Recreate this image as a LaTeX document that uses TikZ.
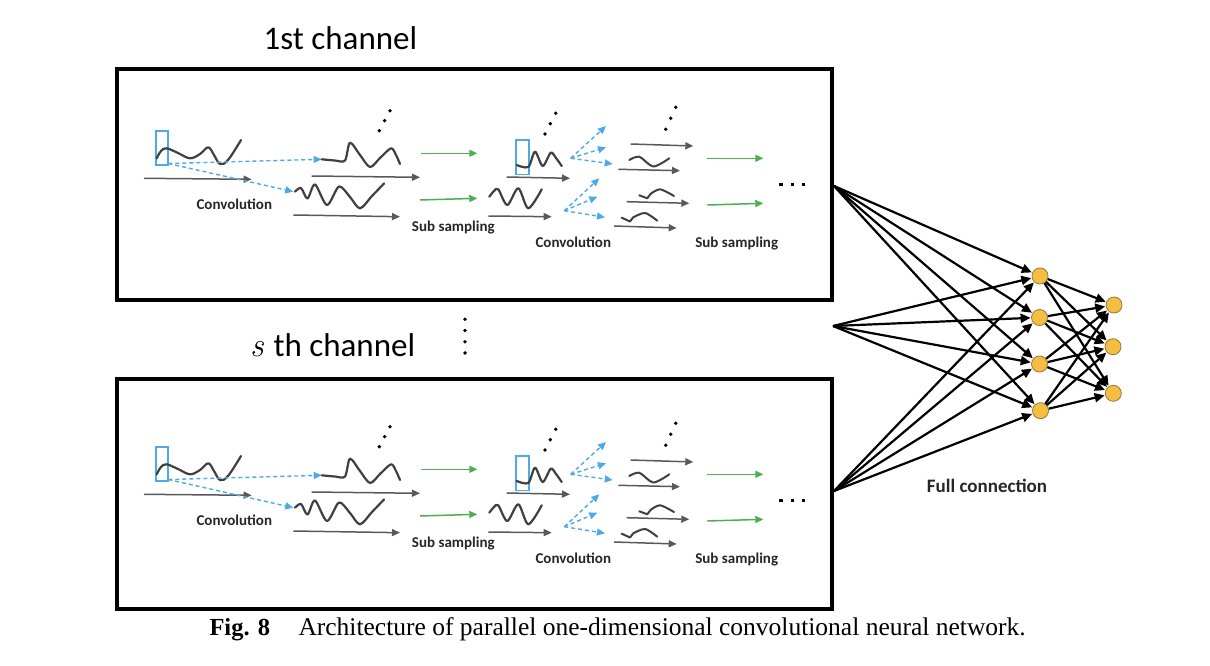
\documentclass[tikz,border=0pt]{standalone}
\usepackage{fontspec}
\newfontfamily\calibri{Carlito}
\newfontfamily\timesf{Liberation Serif}
\usetikzlibrary{arrows.meta}
\definecolor{wavegray}{RGB}{64,64,64}
\definecolor{arrgray}{RGB}{89,89,89}
\definecolor{arrgreen}{RGB}{76,175,80}
\definecolor{arrblue}{RGB}{78,170,230}
\definecolor{neurofill}{RGB}{243,190,66}
\definecolor{neurodraw}{RGB}{150,120,60}
\tikzset{
  grayarr/.style={draw=arrgray,line width=1.5pt,-{Triangle[length=8pt,width=7pt]}},
  greenarr/.style={draw=arrgreen,line width=1.5pt,-{Triangle[length=8pt,width=7pt]}},
  bluedash/.style={draw=arrblue,line width=1.4pt,dash pattern=on 4pt off 3pt,-{Triangle[length=8pt,width=7pt]}},
  bluebox/.style={draw=arrblue,line width=1.6pt},
  wave/.style={draw=wavegray,line width=2.2pt,line cap=round,line join=round},
  lbl/.style={font=\calibri\bfseries\fontsize{15}{18}\selectfont,text=black!85,inner sep=0pt},
  dotc/.style={fill=black,draw=none},
  chanbox/.style={draw=black,line width=4pt},
  neuron/.style={circle,fill=neurofill,draw=neurodraw,line width=0.8pt,minimum size=16pt,inner sep=0pt},
  netarr/.style={draw=black,line width=2.2pt,-{Triangle[length=10pt,width=9pt]},shorten >=0.5pt},
}
\newcommand{\chancontent}{%
  % stage 1
  \draw[bluebox] (156,131) rectangle (168,165);
  \draw[wave] plot[smooth,tension=0.6] coordinates {(156.7,158.3) (161,151) (166.7,148.3) (178,153) (190,158.3) (200,154) (208.3,147.3) (214,155) (220,164) (228,160) (241,140)};
  \coordinate (in1a) at (144,178.3); \coordinate (in1b) at (251.7,179.3);
  \draw[grayarr] (in1a) -- (in1b);
  \coordinate (fo) at (168.3,163.5);
  \coordinate (t1) at (321.7,159.3); \coordinate (t2) at (293.3,191.7);
  \draw[bluedash] (fo) -- (t1);
  \draw[bluedash] (fo) -- (t2);
  \node[lbl] (conv1) at (234.3,204.3) {Convolution};
  % feature maps 1
  \draw[wave] plot[smooth,tension=0.5] coordinates {(321.7,159.3) (335,160.5) (345,160.5) (350,142.7) (360,155) (370,167) (380,158) (391,148.3) (396,155) (400,164)};
  \draw[wave] plot[smooth,tension=0.5] coordinates {(295,191.7) (301,188) (307.5,198.5) (315,184.5) (327,205) (339,186.5) (350,197) (360,208.3) (372,196) (384,183.5)};
  \foreach \p in {(379.3,130.7),(384.6,120.7),(390,110.7)} \fill[dotc] \p circle (1.9);
  \coordinate (a2a) at (311.7,176); \coordinate (a2b) at (420,177.3);
  \draw[grayarr] (a2a) -- (a2b);
  \coordinate (a3a) at (293.3,215); \coordinate (a3b) at (400,216.7);
  \draw[grayarr] (a3a) -- (a3b);
  \coordinate (g1a) at (420.7,153.3); \coordinate (g1b) at (477.3,153.3);
  \draw[greenarr] (g1a) -- (g1b);
  \coordinate (g2a) at (420,200); \coordinate (g2b) at (477.3,198.3);
  \draw[greenarr] (g2a) -- (g2b);
  \node[lbl] (sub1) at (453.3,227.3) {Sub sampling};
  % stage 2
  \draw[bluebox] (515.7,140) rectangle (528.7,174.3);
  \draw[wave] plot[smooth,tension=0.5] coordinates {(516.7,165) (528.3,167) (535,151.7) (542.7,166) (550.7,152.7) (556,158) (561.7,166)};
  \draw[wave] plot[smooth,tension=0.5] coordinates {(489.3,196.7) (494,191) (498.3,189.3) (507.3,205) (518.3,188.3) (528.3,208.3) (541.7,189.3)};
  \foreach \p in {(545,134),(550.3,123.7),(555.7,113.3)} \fill[dotc] \p circle (1.9);
  \coordinate (a4a) at (506.7,177); \coordinate (a4b) at (570,178.3);
  \draw[grayarr] (a4a) -- (a4b);
  \coordinate (a5a) at (488.3,216); \coordinate (a5b) at (551.7,216.7);
  \draw[grayarr] (a5a) -- (a5b);
  \coordinate (fu) at (570.7,158.3);
  \coordinate (fu1) at (606,126); \coordinate (fu2) at (606,147.3); \coordinate (fu3) at (612.7,164);
  \foreach \t in {fu1,fu2,fu3} \draw[bluedash] (fu) -- (\t);
  \coordinate (fl) at (564.3,210.7);
  \coordinate (fl1) at (599.3,178.3); \coordinate (fl2) at (597.3,196.7); \coordinate (fl3) at (605,217.3);
  \foreach \t in {fl1,fl2,fl3} \draw[bluedash] (fl) -- (\t);
  \node[lbl] (conv2) at (573.3,242.3) {Convolution};
  % feature maps 2
  \foreach \p in {(665.7,129.3),(670.7,118.3),(675.7,107.3)} \fill[dotc] \p circle (1.9);
  \coordinate (a6a) at (630.7,144); \coordinate (a6b) at (693.3,146);
  \draw[grayarr] (a6a) -- (a6b);
  \draw[wave,line width=2pt] plot[smooth,tension=0.5] coordinates {(629.3,160) (639.3,156.7) (653.3,166.5) (669.3,158.3)};
  \coordinate (a7a) at (618.3,169.3); \coordinate (a7b) at (680,170.7);
  \draw[grayarr] (a7a) -- (a7b);
  \draw[wave,line width=2pt] (639.3,195.3) -- (647.3,198.3) -- (650.5,194) plot[smooth,tension=0.5] coordinates {(650.5,194) (660,189.3) (674,196)};
  \coordinate (a8a) at (626.7,201.7); \coordinate (a8b) at (689.3,203.3);
  \draw[grayarr] (a8a) -- (a8b);
  \draw[wave,line width=2pt] (621.7,217.7) -- (630,221.5) -- (633,217.5) plot[smooth,tension=0.5] coordinates {(633,217.5) (645,213) (657.3,220.7)};
  \coordinate (a9a) at (614,226); \coordinate (a9b) at (676.7,228);
  \draw[grayarr] (a9a) -- (a9b);
  \coordinate (g3a) at (707.3,158.3); \coordinate (g3b) at (763.3,158.3);
  \draw[greenarr] (g3a) -- (g3b);
  \coordinate (g4a) at (707.3,205); \coordinate (g4b) at (763.3,203.3);
  \draw[greenarr] (g4a) -- (g4b);
  \node[lbl] (sub2) at (736.7,244) {Sub sampling};
  \foreach \x in {779.3,790.7,801.7} \fill[dotc] (\x,186.3) rectangle ++(3.4,-3.4);
}
\begin{document}
\begin{tikzpicture}[x=1pt,y=-1pt]
\useasboundingbox (0,0) rectangle (1210,666);
\fill[white] (0,0) rectangle (1210,666);
% titles
\node[anchor=base west,inner sep=0pt,font=\calibri\fontsize{33}{40}\selectfont] (t1) at (263.5,50) {1st channel};
\node[anchor=base west,inner sep=0pt,font=\fontsize{34}{40}\selectfont\itshape] (ts) at (250,356.7) {s};
\node[anchor=base west,inner sep=0pt,font=\calibri\fontsize{33}{40}\selectfont] (t2) at (273.3,356.7) {th channel};
\foreach \y in {319.3,330.5,341.7,352.9} \fill[dotc] (465,\y) circle (1.9);
% boxes
\draw[chanbox] (117,69.5) rectangle (832,299.5);
\draw[chanbox] (117,379) rectangle (832,609);
% contents
\begin{scope}[name prefix=a-]
\chancontent
\end{scope}
\begin{scope}[yshift=-316pt,name prefix=b-]
\chancontent
\end{scope}
% network
\coordinate (s1) at (834,186);
\coordinate (s2) at (833,326);
\coordinate (s3) at (834,491);
\node[neuron] (h1) at (1040,276) {};
\node[neuron] (h2) at (1039.5,317.5) {};
\node[neuron] (h3) at (1039.5,364) {};
\node[neuron] (h4) at (1040.5,410.7) {};
\node[neuron] (o1) at (1114,305) {};
\node[neuron] (o2) at (1113,346.7) {};
\node[neuron] (o3) at (1113.3,393.3) {};
\foreach \s in {s1,s2,s3}
  \foreach \h in {h1,h2,h3,h4}
    \draw[netarr] (\s) -- (\h);
\foreach \h in {h1,h2,h3,h4}
  \foreach \o in {o1,o2,o3}
    \draw[netarr] (\h) -- (\o);
\node[lbl,font=\calibri\bfseries\fontsize{19}{22}\selectfont] (fc) at (987,485.5) {Full connection};
% caption
\node[anchor=base west,inner sep=0pt,font=\timesf\bfseries\fontsize{24.5}{28}\selectfont] (cap1) at (209.3,635) {Fig. 8};
\node[anchor=base west,inner sep=0pt,font=\timesf\fontsize{25.5}{30}\selectfont] (cap2) at (298.3,635) {Architecture of parallel one-dimensional convolutional neural network.};
\end{tikzpicture}
\end{document}
